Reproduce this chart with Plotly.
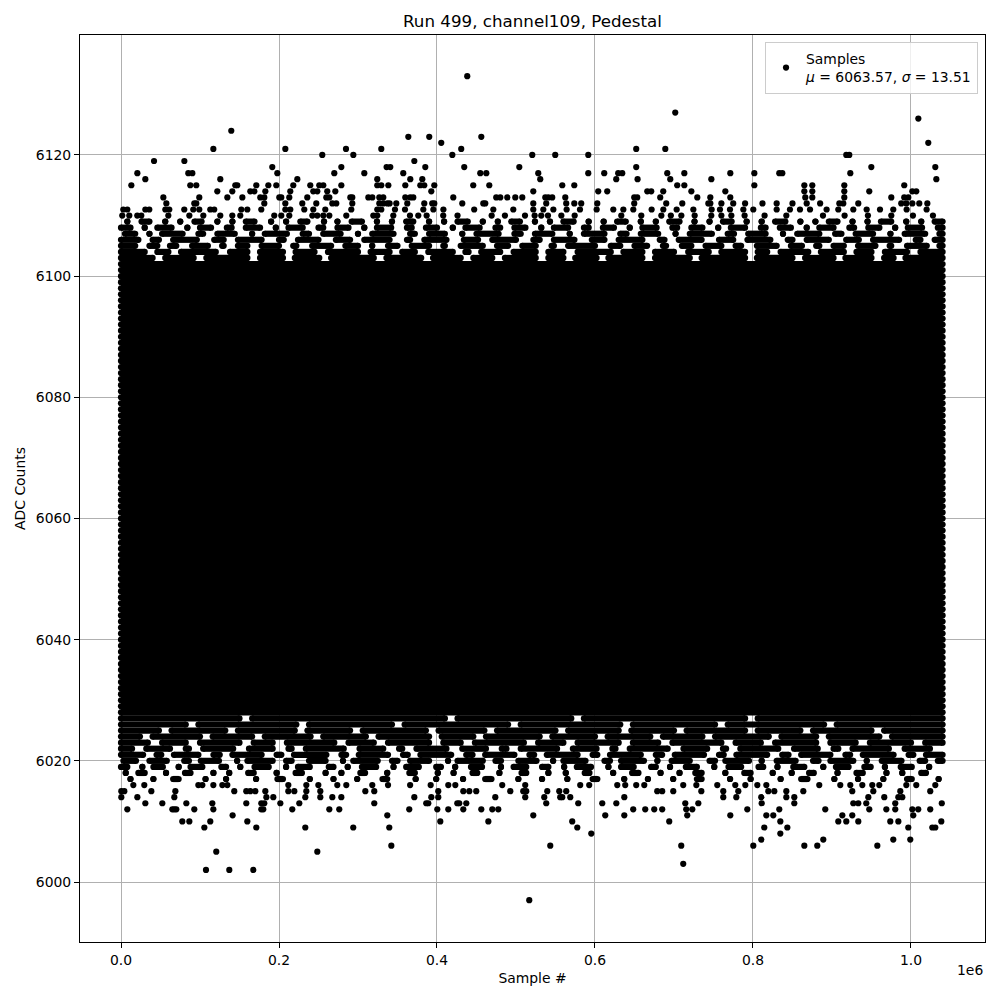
import plotly.graph_objects as go

# Sample numbers below are given in thousands of samples
SAMPLE_UNIT = 1000.0

title_text = "Run 499, channel109, Pedestal"
x_label = "Sample #"
y_label = "ADC Counts"
mean_adc = 6063.57
sigma_adc = 13.51

first_sample = 0.0
last_sample = 1040.0

x_tick_values = [0, 200, 400, 600, 800, 1000]
x_tick_labels = ["0.0", "0.2", "0.4", "0.6", "0.8", "1.0"]
y_tick_values = [6000, 6020, 6040, 6060, 6080, 6100, 6120]

# ADC levels that are occupied over the whole run (solid band)
solid_levels = [6028, 6029, 6030, 6031, 6032, 6033, 6034, 6035, 6036, 6037,
                6038, 6039, 6040, 6041, 6042, 6043, 6044, 6045, 6046, 6047,
                6048, 6049, 6050, 6051, 6052, 6053, 6054, 6055, 6056, 6057,
                6058, 6059, 6060, 6061, 6062, 6063, 6064, 6065, 6066, 6067,
                6068, 6069, 6070, 6071, 6072, 6073, 6074, 6075, 6076, 6077,
                6078, 6079, 6080, 6081, 6082, 6083, 6084, 6085, 6086, 6087,
                6088, 6089, 6090, 6091, 6092, 6093, 6094, 6095, 6096, 6097,
                6098, 6099, 6100, 6101, 6102]

# Partially occupied levels: runs of occupied samples (start, end)
runs_6103 = [(0, 40), (56, 92), (108, 160), (176, 205), (220, 251), (266, 320), (336, 380), (395, 430), (446, 470), (486, 525), (541, 560), (575, 602), (617, 660), (676, 720), (735, 790), (805, 850), (866, 902), (917, 950), (966, 978), (993, 1040)]
runs_6104 = [(0, 30), (46, 60), (76, 120), (138, 160), (176, 205), (221, 245), (262, 300), (316, 340), (356, 372), (389, 420), (436, 440), (456, 480), (497, 525), (541, 560), (578, 620), (636, 660), (676, 700), (718, 744), (760, 790), (806, 818), (835, 870), (886, 915), (931, 950), (967, 995), (1012, 1040)]
runs_6105 = [(0, 18), (36, 46), (62, 70), (90, 110), (128, 130), (148, 160), (178, 200), (218, 222), (242, 266), (284, 300), (318, 318), (338, 350), (368, 390), (408, 410), (430, 458), (476, 490), (508, 525), (545, 548), (566, 600), (620, 632), (650, 666), (686, 690), (710, 722), (740, 760), (778, 785), (805, 830), (848, 862), (880, 884), (902, 915), (933, 955), (973, 975), (995, 1020), (1036, 1040)]
runs_6106 = [(0, 22), (40, 48), (66, 96), (118, 130), (148, 178), (200, 206), (224, 250), (272, 290), (308, 340), (362, 366), (384, 412), (434, 452), (470, 500), (522, 530), (548, 574), (596, 612), (630, 660), (682, 688), (706, 735), (757, 775), (793, 822), (844, 850), (868, 896), (918, 934), (952, 985), (1006, 1012), (1030, 1040)]
runs_6107 = [(5, 18), (36, 36), (52, 78), (98, 104), (122, 144), (166, 166), (182, 210), (230, 238), (256, 278), (300, 300), (318, 345), (366, 372), (390, 410), (432, 432), (450, 478), (498, 506), (524, 546), (568, 568), (586, 612), (632, 640), (658, 680), (702, 702), (720, 748), (768, 776), (794, 816), (838, 838), (856, 884), (904, 912), (930, 952), (974, 974), (992, 1018), (1036, 1040)]
runs_6108 = [(0, 12), (30, 30), (46, 64), (84, 84), (100, 114), (134, 140), (158, 176), (196, 196), (212, 230), (250, 256), (274, 288), (308, 308), (324, 342), (362, 368), (386, 400), (420, 420), (436, 454), (474, 480), (498, 512), (532, 532), (548, 566), (586, 592), (610, 624), (644, 644), (660, 678), (698, 704), (722, 736), (756, 756), (772, 790), (810, 816), (834, 848), (868, 868), (884, 902), (922, 928), (946, 960), (980, 980), (996, 1014), (1034, 1040)]
runs_6109 = [(8, 8), (26, 36), (56, 56), (75, 75), (93, 102), (122, 122), (141, 141), (158, 169), (190, 190), (209, 209), (227, 236), (257, 257), (274, 274), (292, 305), (324, 324), (343, 343), (361, 370), (390, 390), (409, 409), (426, 439), (458, 458), (477, 477), (494, 505), (524, 524), (543, 543), (560, 573), (592, 592), (611, 611), (628, 639), (658, 658), (677, 677), (694, 707), (726, 726), (745, 745), (762, 773), (792, 792), (811, 811), (828, 841), (860, 860), (879, 879), (896, 907), (926, 926), (945, 945), (962, 975), (994, 994), (1013, 1013), (1030, 1040)]

runs_6027 = [(0, 150), (166, 410), (426, 570), (586, 790), (806, 1040)]
runs_6026 = [(0, 82), (98, 222), (238, 343), (359, 490), (506, 632), (648, 752), (768, 890), (906, 1040)]
runs_6025 = [(0, 48), (64, 132), (148, 220), (236, 290), (306, 386), (402, 460), (476, 550), (566, 630), (646, 700), (716, 790), (806, 860), (876, 950), (966, 1040)]
runs_6024 = [(0, 24), (40, 100), (116, 166), (182, 240), (256, 310), (326, 390), (406, 446), (462, 530), (546, 600), (616, 670), (686, 736), (752, 820), (836, 880), (896, 960), (976, 1040)]
runs_6023 = [(0, 34), (52, 82), (100, 150), (168, 192), (210, 270), (288, 320), (338, 390), (408, 430), (448, 510), (528, 560), (578, 630), (648, 680), (698, 760), (778, 810), (828, 880), (898, 930), (948, 1000), (1018, 1040)]
runs_6022 = [(0, 14), (32, 62), (82, 86), (104, 142), (162, 192), (212, 216), (234, 282), (302, 332), (352, 356), (374, 412), (432, 462), (482, 488), (506, 552), (572, 602), (622, 626), (644, 692), (712, 742), (762, 766), (784, 832), (852, 882), (902, 908), (926, 972), (992, 1024)]
runs_6021 = [(0, 28), (45, 51), (67, 98), (117, 125), (141, 178), (197, 203), (219, 260), (279, 285), (301, 338), (357, 363), (379, 418), (437, 445), (461, 498), (517, 523), (539, 578), (597, 603), (619, 658), (677, 685), (701, 738), (757, 763), (779, 818), (837, 845), (861, 898), (917, 923), (939, 978), (997, 1003), (1019, 1040)]
runs_6020 = [(3, 19), (36, 58), (80, 86), (101, 124), (147, 147), (160, 192), (209, 216), (238, 259), (281, 281), (294, 325), (343, 350), (366, 390), (414, 414), (426, 458), (474, 481), (503, 526), (547, 547), (560, 588), (612, 619), (633, 662), (679, 679), (697, 720), (745, 752), (765, 795), (811, 811), (830, 854), (876, 883), (898, 927), (944, 944), (963, 988), (1011, 1018), (1034, 1040)]
runs_6019 = [(0, 8), (27, 27), (41, 53), (73, 73), (88, 103), (127, 133), (151, 151), (169, 187), (209, 209), (224, 239), (263, 269), (287, 287), (305, 323), (345, 345), (361, 377), (399, 405), (423, 423), (443, 457), (481, 481), (497, 513), (533, 541), (561, 561), (577, 595), (617, 617), (633, 649), (671, 677), (695, 695), (715, 729), (751, 751), (769, 785), (807, 813), (831, 831), (851, 865), (889, 889), (905, 921), (941, 949), (967, 967), (987, 1001), (1023, 1023)]
runs_6018 = [(6, 6), (22, 30), (57, 57), (81, 88), (117, 117), (137, 137), (161, 168), (197, 197), (221, 229), (259, 259), (279, 279), (303, 309), (337, 337), (365, 372), (401, 401), (421, 421), (445, 451), (479, 479), (507, 513), (541, 541), (563, 563), (587, 593), (623, 623), (647, 655), (683, 683), (707, 707), (727, 735), (765, 765), (789, 797), (825, 825), (849, 849), (871, 877), (907, 907), (931, 939), (969, 969), (989, 989), (1013, 1019)]
runs_6017 = [(12, 12), (41, 41), (66, 73), (107, 107), (133, 133), (171, 171), (198, 205), (239, 239), (269, 269), (299, 299), (331, 337), (373, 373), (399, 399), (433, 433), (461, 469), (503, 503), (533, 533), (565, 565), (597, 603), (637, 637), (667, 667), (699, 699), (729, 735), (771, 771), (797, 797), (835, 835), (861, 869), (903, 903), (933, 933), (965, 965), (995, 1001), (1035, 1035)]

fringe_levels = [6103, 6104, 6105, 6106, 6107, 6108, 6109,
                 6027, 6026, 6025, 6024, 6023, 6022, 6021, 6020, 6019, 6018, 6017]
fringe_runs = [runs_6103, runs_6104, runs_6105, runs_6106, runs_6107, runs_6108, runs_6109,
               runs_6027, runs_6026, runs_6025, runs_6024, runs_6023, runs_6022, runs_6021,
               runs_6020, runs_6019, runs_6018, runs_6017]

# Individual samples on sparse levels (level, sample positions)
upper_outliers = [
    (6133, [438.3]),
    (6127, [701.6]),
    (6126, [1009.3]),
    (6124, [139.6]),
    (6123, [363.7, 390.2, 456.1]),
    (6122, [405.4, 1021.9]),
    (6121, [116.9, 208.0, 284.8, 329.5, 430.7, 652.2, 689.0]),
    (6120, [254.8, 294.1, 419.4, 520.6, 549.7, 591.5, 918.1, 921.9]),
    (6119, [41.8, 80.2, 371.3]),
    (6118, [191.5, 278.9, 336.2, 340.9, 385.2, 434.5, 504.2, 652.2, 949.8, 1030.8]),
    (6117, [20.7, 85.2, 90.3, 197.9, 270.0, 308.0, 357.3, 454.8, 462.4, 528.2, 591.5, 611.7,
            629.4, 634.5, 691.5, 713.1, 771.3, 801.7, 833.3, 837.1, 923.2]),
    (6116, [30.8, 125.7, 223.2, 324.4, 366.2, 381.4, 530.7, 626.9, 653.9, 695.3, 747.3, 1032.1]),
    (6115, [13.1, 87.7, 95.3, 144.7, 147.2, 171.3, 186.5, 196.6, 218.1, 239.6, 251.0, 256.1,
            278.9, 324.4, 329.5, 338.4, 359.9, 378.9, 383.9, 396.6, 445.9, 466.2, 558.6, 573.8,
            704.1, 713.1, 801.7, 865.0, 875.1, 915.6, 991.5]),
    (6114, [121.9, 140.9, 163.7, 168.8, 182.7, 214.3, 243.4, 248.5, 261.1, 271.3, 392.8, 521.9,
            604.1, 615.5, 666.2, 671.2, 686.4, 722.0, 765.0, 865.0, 875.1, 915.6, 947.2, 1001.7,
            1006.7]),
    (6113, [53.6, 99.1, 134.6, 153.6, 176.3, 181.4, 200.4, 202.9, 213.0, 235.8, 259.9, 263.7,
            290.3, 292.8, 313.1, 318.1, 327.0, 332.0, 359.9, 366.2, 370.0, 420.6, 475.0, 480.1,
            489.0, 499.1, 508.0, 537.1, 540.9, 545.9, 562.4, 649.7, 653.5, 682.6, 729.5, 746.0,
            771.3, 866.2, 875.1, 915.6, 975.1, 991.5, 996.6]),
    (6112, [57.4, 92.8, 95.3, 181.4, 208.0, 229.5, 247.2, 267.5, 272.5, 292.8, 327.0, 332.0,
            337.1, 340.0, 348.5, 362.4, 383.9, 394.0, 396.6, 432.0, 458.6, 461.1, 521.9, 538.3,
            563.6, 573.8, 582.6, 602.9, 649.7, 690.2, 710.5, 743.5, 746.0, 760.0, 775.0, 790.0,
            812.0, 830.0, 850.0, 868.0, 885.0, 909.3, 914.3, 933.3, 987.7, 994.1, 1001.7, 1010.5,
            1020.7]),
    (6111, [2.9, 8.0, 30.8, 35.8, 56.1, 61.1, 80.1, 91.5, 99.1, 113.0, 118.0, 152.3, 159.9,
            177.6, 208.0, 214.3, 232.0, 243.4, 258.6, 291.5, 324.4, 329.5, 346.8, 359.5, 382.7,
            395.4, 408.1, 447.1, 471.3, 496.6, 521.9, 534.6, 547.3, 564.1, 581.0, 602.1, 623.2,
            635.9, 648.5, 671.7, 686.5, 703.4, 724.5, 747.7, 758.2, 770.9, 787.8, 800.4, 830.0,
            846.8, 859.5, 872.2, 893.2, 908.0, 927.0, 943.9, 960.8, 977.6, 994.5, 1019.8]),
    (6110, [1.6, 10.5, 20.6, 25.7, 59.9, 86.5, 104.2, 125.7, 140.9, 151.0, 194.0, 202.9, 213.0,
            242.2, 248.5, 256.1, 263.7, 285.2, 319.4, 324.4, 344.7, 365.8, 376.3, 386.9, 407.9,
            426.0, 469.2, 486.0, 511.4, 523.6, 532.0, 540.5, 557.4, 574.3, 633.3, 658.6, 684.0,
            696.0, 709.3, 726.2, 747.2, 760.0, 772.6, 789.4, 814.7, 842.2, 888.6, 916.0, 945.5,
            975.1, 1002.5, 1027.8]),
]

lower_outliers = [
    (6016, [15.6, 29.5, 97.9, 103.0, 116.9, 128.3, 134.6, 211.8, 234.6, 249.8, 273.8, 285.2,
            318.1, 338.0, 366.0, 392.0, 414.3, 423.2, 482.6, 511.7, 581.3, 592.7, 628.2, 638.3,
            652.2, 662.4, 711.7, 728.3, 754.8, 777.6, 790.3, 805.5, 816.9, 883.9, 910.5, 923.2,
            938.4, 951.0, 959.9, 994.1, 1006.7, 1030.8]),
    (6015, [0.4, 4.2, 38.4, 68.8, 143.4, 158.6, 163.7, 170.0, 182.7, 211.8, 219.4, 234.6, 252.3,
            309.3, 320.6, 401.6, 433.3, 440.9, 449.7, 492.8, 509.2, 513.0, 539.6, 554.8, 563.6,
            678.8, 685.1, 699.1, 734.6, 762.4, 781.4, 819.4, 827.0, 842.2, 863.7, 925.7, 952.3,
            986.5, 1024.4]),
    (6014, [0.4, 20.7, 67.5, 184.0, 192.8, 233.3, 252.3, 267.5, 278.9, 371.3, 392.8, 401.6,
            473.8, 511.7, 535.8, 556.0, 558.6, 568.7, 637.1, 762.4, 778.9, 810.5, 842.2, 852.3,
            946.0, 966.2, 984.0, 989.0]),
    (6013, [30.8, 52.3, 82.7, 115.6, 158.6, 177.6, 181.4, 201.7, 225.7, 320.6, 386.4, 389.0,
            425.7, 428.2, 437.1, 538.3, 578.8, 609.2, 627.0, 714.3, 730.8, 811.0, 852.3, 927.0,
            933.3, 943.4, 980.1, 1039.0]),
    (6012, [8.0, 65.0, 67.5, 70.0, 92.8, 116.9, 177.6, 180.1, 216.8, 263.7, 276.3, 364.9, 400.4,
            414.3, 433.3, 456.1, 470.0, 477.6, 648.4, 663.6, 675.0, 685.1, 715.5, 723.2, 792.8,
            833.3, 891.5, 947.2, 968.8, 980.1, 1001.7, 1009.2, 1024.4]),
    (6011, [141.3, 337.1, 521.9, 613.0, 637.1, 716.8, 771.3, 816.9, 825.7, 913.1, 925.7, 1002.9]),
    (6010, [77.6, 86.5, 113.0, 159.9, 404.2, 465.0, 571.2, 694.0, 834.6, 908.0, 918.1, 933.3,
            973.8, 984.0, 1038.4]),
    (6009, [105.5, 171.3, 233.3, 294.0, 339.6, 577.6, 814.3, 843.5, 996.6, 1027.0, 1030.8]),
    (6008, [595.3, 834.6]),
    (6007, [810.5, 889.0, 977.6, 999.1]),
    (6006, [342.2, 543.4, 709.2, 800.4, 865.0, 881.4, 957.4]),
    (6005, [120.6, 248.5]),
    (6003, [711.7]),
    (6002, [107.6, 137.1, 167.5]),
    (5997, [516.8]),
]

# ---------------------------------------------------------------- build marks
seg_x, seg_y = [], []
dot_x, dot_y = [], []

def add_run(level, start, end):
    seg_x.extend([start * SAMPLE_UNIT, end * SAMPLE_UNIT, None])
    seg_y.extend([level, level, None])
    dot_x.extend([start * SAMPLE_UNIT, end * SAMPLE_UNIT])
    dot_y.extend([level, level])

for lvl in solid_levels:
    add_run(lvl, first_sample, last_sample)
for lvl, runs in zip(fringe_levels, fringe_runs):
    for s, e in runs:
        add_run(lvl, s, e)
for lvl, xs in upper_outliers + lower_outliers:
    for x in xs:
        dot_x.append(x * SAMPLE_UNIT)
        dot_y.append(lvl)

fig = go.Figure()
fig.add_trace(go.Scatter(
    x=seg_x, y=seg_y, mode="lines",
    line=dict(color="black", width=6.2),
    showlegend=False, hoverinfo="skip",
))
fig.add_trace(go.Scatter(
    x=dot_x, y=dot_y, mode="markers",
    marker=dict(color="black", size=6.2, line=dict(width=0)),
    name=f"Samples<br><i>μ</i> = {mean_adc:.2f}, <i>σ</i> = {sigma_adc:.2f}",
    showlegend=True,
))
# Solid band filled across neighbouring levels so no seams appear
fig.add_trace(go.Scatter(
    x=[first_sample * SAMPLE_UNIT, last_sample * SAMPLE_UNIT,
       last_sample * SAMPLE_UNIT, first_sample * SAMPLE_UNIT, first_sample * SAMPLE_UNIT],
    y=[min(solid_levels), min(solid_levels), max(solid_levels), max(solid_levels), min(solid_levels)],
    mode="lines", fill="toself", fillcolor="black", line=dict(width=0, color="black"),
    showlegend=False, hoverinfo="skip",
))

axis_common = dict(
    showline=True, mirror=True, linecolor="black", linewidth=1,
    ticks="outside", ticklen=5, tickwidth=1, tickcolor="black",
    showgrid=True, gridcolor="#b0b0b0", gridwidth=1, zeroline=False,
    tickfont=dict(size=13.9, color="black"),
)

fig.update_xaxes(
    range=[-51.9e3, 1093.7e3],
    tickvals=[v * SAMPLE_UNIT for v in x_tick_values],
    ticktext=x_tick_labels,
    title=dict(text=x_label, standoff=6, font=dict(size=13.9)),
    **axis_common,
)
fig.update_yaxes(
    range=[5990.1, 6139.8],
    tickvals=y_tick_values,
    title=dict(text=y_label, standoff=6, font=dict(size=13.9)),
    **axis_common,
)

fig.update_layout(
    width=1000, height=1000,
    margin=dict(l=80, r=15, t=35, b=58),
    paper_bgcolor="white", plot_bgcolor="white",
    font=dict(family="DejaVu Sans", size=13.9, color="black"),
    title=dict(text=title_text, x=0.5, xref="paper", xanchor="center",
               y=1 - 21 / 1000, yref="container", yanchor="middle",
               font=dict(size=16.7, color="black")),
    legend=dict(x=0.9923, y=0.9923, xanchor="right", yanchor="top",
                bgcolor="rgba(255,255,255,0.8)", bordercolor="#cccccc", borderwidth=1,
                font=dict(size=13.9, color="black")),
    showlegend=True,
    annotations=[dict(text="1e6", xref="paper", yref="paper", x=1.0, y=-0.031,
                      xanchor="right", yanchor="middle", showarrow=False,
                      font=dict(size=13.9, color="black"))],
)

fig.write_html("out.html", config={"displayModeBar": False},
               post_script="document.body.style.margin='0';document.body.style.overflow='hidden';")
